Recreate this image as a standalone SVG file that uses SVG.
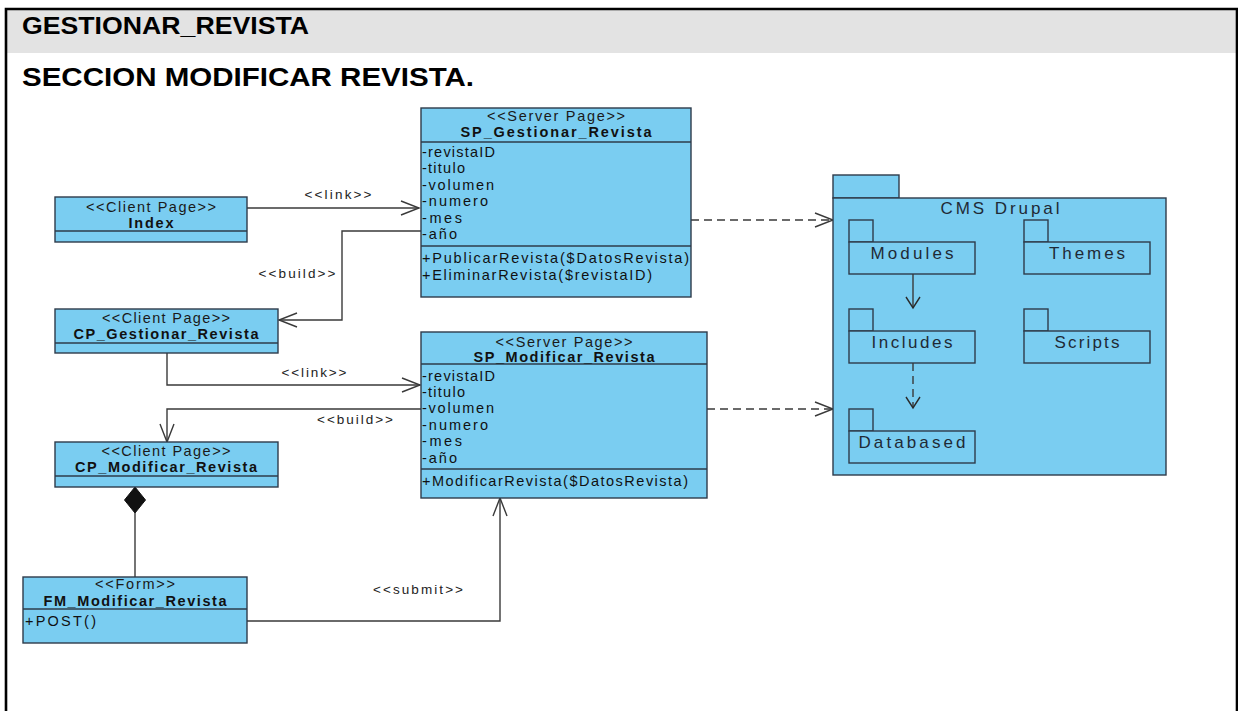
<svg xmlns="http://www.w3.org/2000/svg" width="1238" height="711" viewBox="0 0 1238 711">
  <style>
    .frame { stroke: #000; stroke-width: 2.6; fill: none; }
    .title { font-family: "Liberation Sans", Arial, sans-serif; font-weight: bold; fill: #000; }
    .box { fill: #7acdf1; stroke: #2e3b4a; stroke-width: 1.4; }
    .div { stroke: #2e3b4a; stroke-width: 1.4; }
    .st { font-family: "Liberation Sans", Arial, sans-serif; font-size: 14.5px; fill: #1a1a1a; text-anchor: middle; }
    .nm { font-family: "Liberation Sans", Arial, sans-serif; font-size: 14.5px; font-weight: bold; fill: #111; text-anchor: middle; }
    .at { font-family: "Liberation Sans", Arial, sans-serif; font-size: 14.5px; fill: #111; }
    .pk { font-family: "Liberation Sans", Arial, sans-serif; font-size: 17px; fill: #1f2a36; text-anchor: middle; }
    .lbl { font-family: "Liberation Sans", Arial, sans-serif; font-size: 13.5px; fill: #222; text-anchor: middle; }
    .ln { stroke: #3a3a3a; stroke-width: 1.4; fill: none; }
    .dash { stroke: #3a3a3a; stroke-width: 1.4; fill: none; stroke-dasharray: 8 5; }
  </style>
  <defs>
    <marker id="open" markerUnits="userSpaceOnUse" viewBox="-20 -10 22 20" refX="0" refY="0" markerWidth="22" markerHeight="20" orient="auto">
      <path d="M-18,-7 L0,0 L-18,7" fill="none" stroke="#3a3a3a" stroke-width="1.4"/>
    </marker>
    <marker id="openSmall" markerUnits="userSpaceOnUse" viewBox="-14 -10 16 20" refX="0" refY="0" markerWidth="16" markerHeight="20" orient="auto">
      <path d="M-11,-7 L0,0 L-11,7" fill="none" stroke="#2a2a2a" stroke-width="1.4"/>
    </marker>
  </defs>

  <!-- page frame and heading -->
  <rect x="0" y="0" width="1238" height="711" fill="#fff"/>
  <rect x="6" y="9" width="1231" height="44" fill="#e3e3e3"/>
  <path class="frame" d="M6,711 V9 H1237 V711"/>
  <text class="title" x="22" y="34" font-size="23" textLength="287" lengthAdjust="spacingAndGlyphs">GESTIONAR_REVISTA</text>
  <text class="title" x="22" y="86" font-size="26" textLength="452" lengthAdjust="spacingAndGlyphs">SECCION MODIFICAR REVISTA.</text>

  <!-- connectors -->
  <g id="connectors">
    <path class="ln" d="M247,208 H419" marker-end="url(#open)"/>
    <text class="lbl" x="338" y="199" textLength="67" lengthAdjust="spacing">&lt;&lt;link&gt;&gt;</text>

    <path class="ln" d="M421,231 H342 V320 H279" marker-end="url(#open)"/>
    <text class="lbl" x="297" y="278" textLength="77" lengthAdjust="spacing">&lt;&lt;build&gt;&gt;</text>

    <path class="ln" d="M167,353 V385 H420" marker-end="url(#open)"/>
    <text class="lbl" x="314" y="377" textLength="65" lengthAdjust="spacing">&lt;&lt;link&gt;&gt;</text>

    <path class="ln" d="M421,409 H167 V442" marker-end="url(#open)"/>
    <text class="lbl" x="355" y="424" textLength="76" lengthAdjust="spacing">&lt;&lt;build&gt;&gt;</text>

    <path class="ln" d="M247,621 H500 V498" marker-end="url(#open)"/>
    <text class="lbl" x="418" y="594" textLength="90" lengthAdjust="spacing">&lt;&lt;submit&gt;&gt;</text>

    <path class="ln" d="M135,513 V577"/>
    <polygon points="135,487 145.5,500 135,513 124.5,500" fill="#111" stroke="#111" stroke-width="1"/>

    <path class="dash" d="M691,220 H833" marker-end="url(#open)"/>
    <path class="dash" d="M707,409 H833" marker-end="url(#open)"/>
  </g>

  <!-- client pages -->
  <g id="index">
    <rect class="box" x="55" y="197" width="192" height="45"/>
    <line class="div" x1="55" y1="231" x2="247" y2="231"/>
    <text class="st" x="151" y="212" textLength="130" lengthAdjust="spacing">&lt;&lt;Client Page&gt;&gt;</text>
    <text class="nm" x="151" y="228" textLength="45" lengthAdjust="spacing">Index</text>
  </g>

  <g id="cp-gestionar-revista">
    <rect class="box" x="55" y="309" width="223" height="44"/>
    <line class="div" x1="55" y1="343" x2="278" y2="343"/>
    <text class="st" x="166" y="323" textLength="128" lengthAdjust="spacing">&lt;&lt;Client Page&gt;&gt;</text>
    <text class="nm" x="166" y="339" textLength="185" lengthAdjust="spacing">CP_Gestionar_Revista</text>
  </g>

  <g id="cp-modificar-revista">
    <rect class="box" x="55" y="442" width="223" height="45"/>
    <line class="div" x1="55" y1="476" x2="278" y2="476"/>
    <text class="st" x="166" y="456" textLength="129" lengthAdjust="spacing">&lt;&lt;Client Page&gt;&gt;</text>
    <text class="nm" x="166" y="472" textLength="182" lengthAdjust="spacing">CP_Modificar_Revista</text>
  </g>

  <g id="fm-modificar-revista">
    <rect class="box" x="23" y="577" width="224" height="66"/>
    <line class="div" x1="23" y1="609" x2="247" y2="609"/>
    <text class="st" x="135" y="589" textLength="80" lengthAdjust="spacing">&lt;&lt;Form&gt;&gt;</text>
    <text class="nm" x="135" y="606" textLength="183" lengthAdjust="spacing">FM_Modificar_Revista</text>
    <text class="at" x="25" y="626" textLength="71" lengthAdjust="spacing">+POST()</text>
  </g>

  <!-- server pages -->
  <g id="sp-gestionar-revista">
    <rect class="box" x="421" y="108" width="270" height="189"/>
    <line class="div" x1="421" y1="142" x2="691" y2="142"/>
    <line class="div" x1="421" y1="246" x2="691" y2="246"/>
    <text class="st" x="556" y="121" textLength="138" lengthAdjust="spacing">&lt;&lt;Server Page&gt;&gt;</text>
    <text class="nm" x="556" y="137" textLength="191" lengthAdjust="spacing">SP_Gestionar_Revista</text>
    <text class="at" x="422" y="157" textLength="73" lengthAdjust="spacing">-revistaID</text>
    <text class="at" x="422" y="173" textLength="43" lengthAdjust="spacing">-titulo</text>
    <text class="at" x="422" y="190" textLength="72" lengthAdjust="spacing">-volumen</text>
    <text class="at" x="422" y="206" textLength="66" lengthAdjust="spacing">-numero</text>
    <text class="at" x="422" y="223" textLength="40" lengthAdjust="spacing">-mes</text>
    <text class="at" x="422" y="239" textLength="35" lengthAdjust="spacing">-año</text>
    <text class="at" x="422" y="263" textLength="267" lengthAdjust="spacing">+PublicarRevista($DatosRevista)</text>
    <text class="at" x="422" y="280" textLength="230" lengthAdjust="spacing">+EliminarRevista($revistaID)</text>
  </g>

  <g id="sp-modificar-revista">
    <rect class="box" x="421" y="332" width="286" height="166"/>
    <line class="div" x1="421" y1="364" x2="707" y2="364"/>
    <line class="div" x1="421" y1="469" x2="707" y2="469"/>
    <text class="st" x="564" y="347" textLength="137" lengthAdjust="spacing">&lt;&lt;Server Page&gt;&gt;</text>
    <text class="nm" x="564" y="362" textLength="181" lengthAdjust="spacing">SP_Modificar_Revista</text>
    <text class="at" x="422" y="381" textLength="73" lengthAdjust="spacing">-revistaID</text>
    <text class="at" x="422" y="397" textLength="43" lengthAdjust="spacing">-titulo</text>
    <text class="at" x="422" y="413" textLength="72" lengthAdjust="spacing">-volumen</text>
    <text class="at" x="422" y="430" textLength="66" lengthAdjust="spacing">-numero</text>
    <text class="at" x="422" y="446" textLength="40" lengthAdjust="spacing">-mes</text>
    <text class="at" x="422" y="463" textLength="35" lengthAdjust="spacing">-año</text>
    <text class="at" x="422" y="486" textLength="266" lengthAdjust="spacing">+ModificarRevista($DatosRevista)</text>
  </g>

  <!-- CMS package with nested packages -->
  <g id="cms-drupal">
    <rect class="box" x="833" y="175" width="66" height="23"/>
    <rect class="box" x="833" y="198" width="333" height="277"/>
    <text class="pk" x="1000" y="214" font-size="17.5" textLength="119" lengthAdjust="spacing">CMS Drupal</text>
  </g>

  <g id="modules">
    <rect class="box" x="849" y="220" width="24" height="22"/>
    <rect class="box" x="849" y="242" width="126" height="32"/>
    <text class="pk" x="912" y="259" textLength="83" lengthAdjust="spacing">Modules</text>
  </g>

  <g id="themes">
    <rect class="box" x="1024" y="220" width="24" height="22"/>
    <rect class="box" x="1024" y="242" width="126" height="32"/>
    <text class="pk" x="1087" y="259" textLength="76" lengthAdjust="spacing">Themes</text>
  </g>

  <g id="includes">
    <rect class="box" x="849" y="309" width="24" height="22"/>
    <rect class="box" x="849" y="331" width="126" height="32"/>
    <text class="pk" x="912" y="348" textLength="81" lengthAdjust="spacing">Includes</text>
  </g>

  <g id="scripts">
    <rect class="box" x="1024" y="309" width="24" height="22"/>
    <rect class="box" x="1024" y="331" width="126" height="32"/>
    <text class="pk" x="1087" y="348" textLength="65" lengthAdjust="spacing">Scripts</text>
  </g>

  <g id="databased">
    <rect class="box" x="849" y="409" width="24" height="22"/>
    <rect class="box" x="849" y="431" width="126" height="32"/>
    <text class="pk" x="912" y="448" textLength="107" lengthAdjust="spacing">Databased</text>
  </g>

  <!-- dependencies inside the package -->
  <g id="package-connectors">
    <path class="ln" d="M913,274 V308" marker-end="url(#openSmall)"/>
    <path class="dash" d="M913,363 V408" stroke-dasharray="6 4" marker-end="url(#openSmall)"/>
  </g>
</svg>
